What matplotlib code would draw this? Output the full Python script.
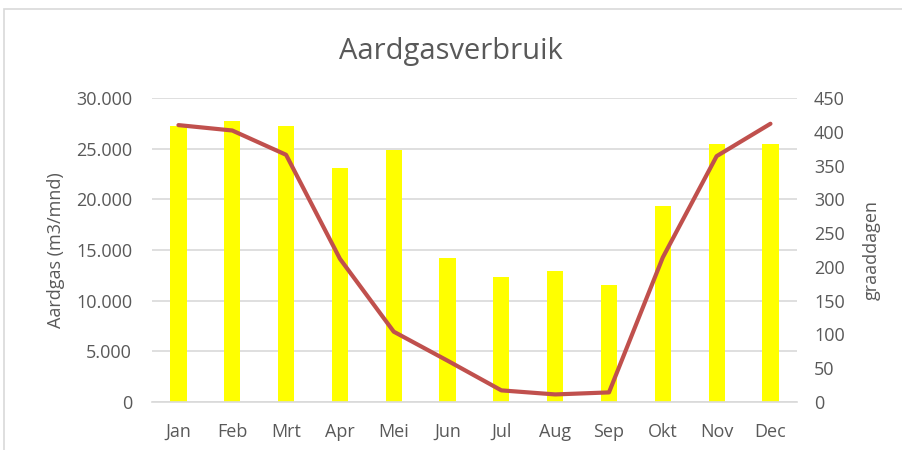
import matplotlib.pyplot as plt
import matplotlib.ticker as mticker
from matplotlib.patches import Rectangle

maanden = ["Jan", "Feb", "Mrt", "Apr", "Mei", "Jun", "Jul", "Aug", "Sep", "Okt", "Nov", "Dec"]
aardgas = [27200, 27700, 27200, 23100, 24900, 14200, 12350, 12900, 11500, 19350, 25450, 25450]
graaddagen = [410, 402, 366, 212, 104, 61, 17, 11, 14, 214, 364, 412]

tekst = "#595959"
plt.rcParams['font.family'] = ['Open Sans', 'DejaVu Sans']

fig = plt.figure(figsize=(9.02, 4.5), dpi=100)
ax = fig.add_axes([0.168, 0.107, 0.716, 0.675])
ax2 = ax.twinx()

x = range(len(maanden))
ax.bar(x, aardgas, width=0.3, color="#ffff00", zorder=2)
ax2.plot(x, graaddagen, color="#c0504d", linewidth=3, solid_capstyle="round",
         solid_joinstyle="round", zorder=3)

ax.set_ylim(0, 30000)
ax.set_yticks(range(0, 30001, 5000))
ax.yaxis.set_major_formatter(mticker.FuncFormatter(lambda v, p: f"{int(v):,}".replace(",", ".")))
ax2.set_ylim(0, 450)
ax2.set_yticks(range(0, 451, 50))
ax.set_xlim(-0.5, 11.5)
ax.set_xticks(list(x))
ax.set_xticklabels(maanden)

ax.grid(axis="y", color="#d9d9d9", linewidth=1.2, zorder=0)
ax.set_axisbelow(True)
for a in (ax, ax2):
    for s in a.spines.values():
        s.set_visible(False)
    a.tick_params(length=0, colors=tekst, labelsize=13)
ax.spines["bottom"].set_visible(True)
ax.spines["bottom"].set_color("#d9d9d9")
ax.spines["bottom"].set_linewidth(1.2)
ax.tick_params(axis="y", pad=14)
ax.tick_params(axis="x", pad=15)
ax2.tick_params(axis="y", pad=12)

ax.set_ylabel("Aardgas (m3/mnd)", color=tekst, fontsize=13, labelpad=8)
ax2.set_ylabel("graaddagen", color=tekst, fontsize=13, labelpad=13)
fig.text(0.5, 0.885, "Aardgasverbruik", ha="center", va="center", fontsize=21, color=tekst)

fig.patches.append(Rectangle((0.004, -0.01), 1.2, 0.99, transform=fig.transFigure,
                             fill=False, edgecolor="#d9d9d9", linewidth=1.2))

fig.savefig("out.png", dpi=100)
